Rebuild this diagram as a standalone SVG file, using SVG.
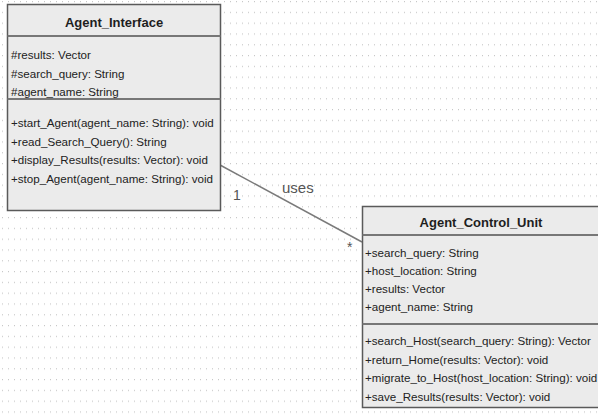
<svg xmlns="http://www.w3.org/2000/svg" width="598" height="415" viewBox="0 0 598 415">
  <defs>
    <pattern id="grid" x="2" y="1" width="6" height="10.8" patternUnits="userSpaceOnUse">
      <rect x="0" y="0" width="1" height="1.2" fill="#c8c8c8"/>
    </pattern>
    <style>
      .box { fill: #ebebeb; stroke: #5a5a5a; stroke-width: 1.5; }
      .sep { stroke: #777; stroke-width: 2; }
      .title { font-family: "Liberation Sans", Arial, sans-serif; font-size: 13px; font-weight: bold; fill: #1e1e1e; text-anchor: middle; }
      .member { font-family: "Liberation Sans", Arial, sans-serif; font-size: 11.6px; fill: #222; }
      .label { font-family: "Liberation Sans", Arial, sans-serif; fill: #555; }
      .assoc { stroke: #7a7a7a; stroke-width: 1.5; fill: none; }
    </style>
  </defs>

  <!-- canvas with dotted grid -->
  <rect x="0" y="0" width="598" height="415" fill="#ffffff"/>
  <rect x="0" y="0" width="598" height="415" fill="url(#grid)"/>

  <!-- association -->
  <g id="connectors">
    <line class="assoc" x1="220" y1="165" x2="362" y2="242"/>
    <text class="label" x="233" y="200" font-size="14">1</text>
    <text class="label" x="282" y="193" font-size="15">uses</text>
    <text class="label" x="347" y="252" font-size="14">*</text>
  </g>

  <!-- Agent_Interface class -->
  <g id="agent-interface">
    <rect class="box" x="7.5" y="4.5" width="213" height="206"/>
    <line class="sep" x1="7.5" y1="36" x2="220.5" y2="36"/>
    <line class="sep" x1="7.5" y1="99" x2="220.5" y2="99"/>
    <text class="title" x="114" y="27">Agent_Interface</text>
    <text class="member" x="11" y="59">#results: Vector</text>
    <text class="member" x="11" y="77.5">#search_query: String</text>
    <text class="member" x="11" y="96">#agent_name: String</text>
    <text class="member" x="11" y="127">+start_Agent(agent_name: String): void</text>
    <text class="member" x="11" y="145.5">+read_Search_Query(): String</text>
    <text class="member" x="11" y="164">+display_Results(results: Vector): void</text>
    <text class="member" x="11" y="182.5">+stop_Agent(agent_name: String): void</text>
  </g>

  <!-- Agent_Control_Unit class -->
  <g id="agent-control-unit">
    <rect class="box" x="362.5" y="206.5" width="240" height="201"/>
    <line class="sep" x1="362.5" y1="235" x2="600" y2="235"/>
    <line class="sep" x1="362.5" y1="324" x2="600" y2="324"/>
    <text class="title" x="481" y="227">Agent_Control_Unit</text>
    <text class="member" x="365" y="257">+search_query: String</text>
    <text class="member" x="365" y="275">+host_location: String</text>
    <text class="member" x="365" y="293">+results: Vector</text>
    <text class="member" x="365" y="311">+agent_name: String</text>
    <text class="member" x="365" y="345">+search_Host(search_query: String): Vector</text>
    <text class="member" x="365" y="363.5">+return_Home(results: Vector): void</text>
    <text class="member" x="365" y="382">+migrate_to_Host(host_location: String): void</text>
    <text class="member" x="365" y="400.5">+save_Results(results: Vector): void</text>
  </g>
</svg>
